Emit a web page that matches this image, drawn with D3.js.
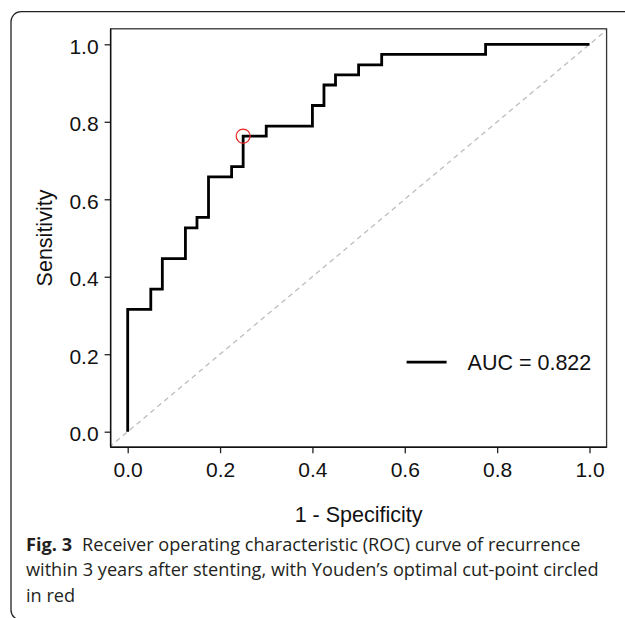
<!DOCTYPE html>
<html>
<head>
<meta charset="utf-8">
<script src="https://cdn.jsdelivr.net/npm/d3@7/dist/d3.min.js"></script>
<style>
  body { margin: 0; background: #fff; }
  svg { display: block; }
  .tick text { font-family: "Liberation Sans", Arial, sans-serif; font-size: 21px; fill: #111; }
  .tick line { stroke: #222; stroke-width: 1.3; }
  .axisTitle { font-family: "Liberation Sans", Arial, sans-serif; font-size: 21.5px; fill: #111; }
  .caption { font-family: "Open Sans", "Noto Sans", sans-serif; fill: #231f20; }
</style>
</head>
<body>
<div id="chart"></div>
<script>
// ROC curve corner points (1 - specificity, sensitivity), step-after
const fpr = [0, 0, 0.05, 0.075, 0.125, 0.15, 0.175, 0.225, 0.25, 0.3, 0.4, 0.425, 0.45, 0.5, 0.55, 0.775, 1];
const tpr = [0, 0.316, 0.368, 0.447, 0.526, 0.553, 0.658, 0.684, 0.763, 0.789, 0.842, 0.895, 0.921, 0.947, 0.974, 1, 1];
// Youden's optimal cut-point
const cutFpr = [0.25];
const cutTpr = [0.763];
const tickValues = [0, 0.2, 0.4, 0.6, 0.8, 1.0];
const aucLabel = "AUC = 0.822";
const xTitle = "1 - Specificity";
const yTitle = "Sensitivity";
const captionBold = "Fig. 3";
const captionLines = [
  "Receiver operating characteristic (ROC) curve of recurrence",
  "within 3 years after stenting, with Youden\u2019s optimal cut-point circled",
  "in red"
];

let width = 625, height = 618;
let svg = d3.select("#chart").append("svg")
    .attr("width", width)
    .attr("height", height);

// outer figure frame (rounded, running off the right and bottom)
svg.append("path")
    .attr("d", "M630,11.7 H21 A10 10 0 0 0 11,21.7 V610 A10 10 0 0 0 21,620 H630")
    .attr("fill", "none")
    .attr("stroke", "#222")
    .attr("stroke-width", 1.3);

let xScale = d3.scaleLinear().domain([0, 1]).range([127.7, 589.5]);
let yScale = d3.scaleLinear().domain([0, 1]).range([431.7, 44.3]);
let padX = 0.037, padY = 0.04;
let pLeft = xScale(-padX), pRight = xScale(1 + padX);
let pTop = yScale(1 + padY), pBottom = yScale(-padY);

svg.append("defs").append("clipPath").attr("id", "panel")
    .append("rect")
    .attr("x", pLeft).attr("y", pTop)
    .attr("width", pRight - pLeft).attr("height", pBottom - pTop);

// reference diagonal
svg.append("line")
    .attr("clip-path", "url(#panel)")
    .attr("x1", xScale(-0.1)).attr("y1", yScale(-0.1))
    .attr("x2", xScale(1.1)).attr("y2", yScale(1.1))
    .attr("stroke", "#bdbdbd")
    .attr("stroke-width", 1.3)
    .attr("stroke-dasharray", "5,4");

// ROC step curve
let points = fpr.map((d, i) => [d, tpr[i]]);
let line = d3.line()
    .x(d => xScale(d[0]))
    .y(d => yScale(d[1]))
    .curve(d3.curveStepAfter);
svg.append("path")
    .datum(points)
    .attr("d", line)
    .attr("fill", "none")
    .attr("stroke", "#000")
    .attr("stroke-width", 2.8)
    .attr("stroke-linejoin", "miter");

// cut-point circle
svg.selectAll(".cut").data(cutFpr).enter().append("circle")
    .attr("class", "cut")
    .attr("cx", d => xScale(d))
    .attr("cy", (d, i) => yScale(cutTpr[i]))
    .attr("r", 7)
    .attr("fill", "none")
    .attr("stroke", "#e8231f")
    .attr("stroke-width", 1.2);

// panel box
svg.append("rect")
    .attr("x", pLeft).attr("y", pTop)
    .attr("width", pRight - pLeft).attr("height", pBottom - pTop)
    .attr("fill", "none")
    .attr("stroke", "#333")
    .attr("stroke-width", 1.3);

// axes
let xAxis = d3.axisBottom(xScale).tickValues(tickValues).tickFormat(d3.format(".1f"))
    .tickSize(6).tickPadding(9).tickSizeOuter(0);
let gx = svg.append("g").attr("transform", "translate(0," + pBottom + ")").call(xAxis);
gx.select(".domain").remove();

let yAxis = d3.axisLeft(yScale).tickValues(tickValues).tickFormat(d3.format(".1f"))
    .tickSize(6).tickPadding(6).tickSizeOuter(0);
let gy = svg.append("g").attr("transform", "translate(" + pLeft + ",0)").call(yAxis);
gy.select(".domain").remove();
gy.selectAll(".tick text").attr("dy", "0.42em");

svg.append("line").attr("x1", pLeft).attr("x2", pRight).attr("y1", pBottom).attr("y2", pBottom)
    .attr("stroke", "#111").attr("stroke-width", 1.4);
svg.append("line").attr("x1", pLeft).attr("x2", pLeft).attr("y1", pTop).attr("y2", pBottom)
    .attr("stroke", "#111").attr("stroke-width", 1.4);

// axis titles
svg.append("text")
    .attr("class", "axisTitle")
    .attr("x", (pLeft + pRight) / 2)
    .attr("y", 521.7)
    .attr("text-anchor", "middle")
    .text(xTitle);
svg.append("text")
    .attr("class", "axisTitle")
    .attr("transform", "translate(51.7," + (pTop + pBottom) / 2 + ") rotate(-90)")
    .attr("text-anchor", "middle")
    .text(yTitle);

// legend
let legend = svg.append("g").attr("transform", "translate(" + (pRight - 200) + "," + (pBottom - 85) + ")");
legend.append("line")
    .attr("x1", 0).attr("x2", 40)
    .attr("stroke", "#000").attr("stroke-width", 2.8);
legend.append("text")
    .attr("class", "axisTitle")
    .attr("x", 61)
    .attr("y", 7.7)
    .text(aucLabel);

// caption
let cap = svg.append("g");
let capSize = 17;
let lineGap = 25.5;
let t0 = cap.append("text").attr("class", "caption").attr("x", 26).attr("y", 550.5)
    .style("font-size", capSize + "px");
t0.append("tspan").style("font-weight", "bold").text(captionBold);
t0.append("tspan").attr("dx", 10).text(captionLines[0]);
let rest = captionLines.slice(1).map((s, i) =>
    cap.append("text").attr("class", "caption").attr("x", 26)
        .attr("y", 550.5 + lineGap * (i + 1))
        .style("font-size", capSize + "px")
        .text(s));
// fit caption width to the reference line width
let w = rest[0].node().getComputedTextLength();
let scaled = capSize * 573 / w;
cap.selectAll("text").style("font-size", scaled + "px");
</script>
</body>
</html>
